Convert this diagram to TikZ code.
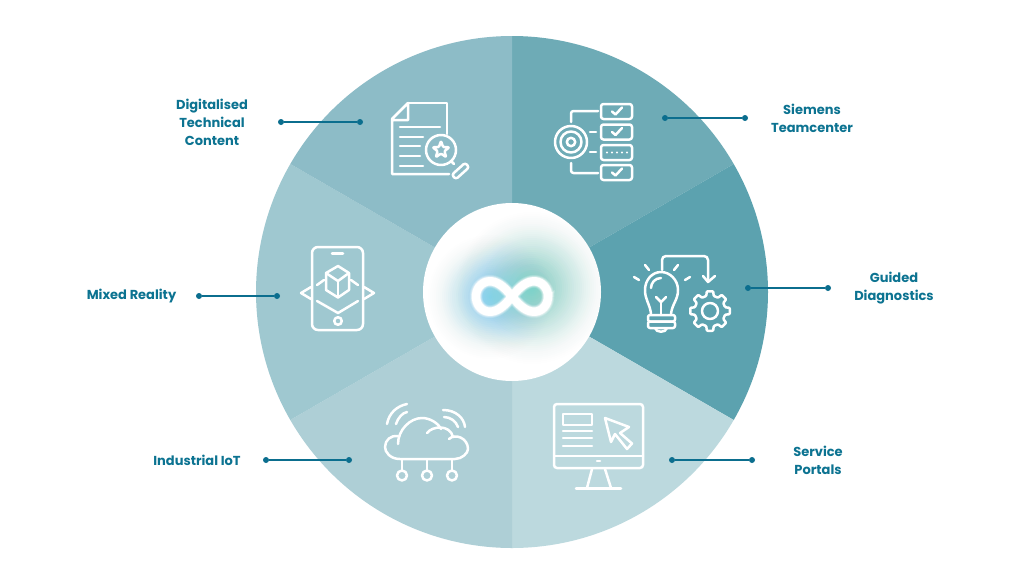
\documentclass[tikz,border=0pt]{standalone}
\usepackage{fontspec}
\usepackage{tikz}
\usetikzlibrary{calc}
\newfontfamily\labelfamily{Poppins}

\definecolor{secdocs}{HTML}{8DBCC7}
\definecolor{secteam}{HTML}{6EABB6}
\definecolor{secdiag}{HTML}{5CA2AF}
\definecolor{secportal}{HTML}{BCD9DE}
\definecolor{seciot}{HTML}{AECFD6}
\definecolor{secmixed}{HTML}{9FC8D0}
\definecolor{leadcol}{HTML}{0B6E8E}
\definecolor{lblcol}{HTML}{0C7391}
\definecolor{spotblue}{HTML}{7FD2EE}
\definecolor{spotteal}{HTML}{7CD6C8}

\tikzset{
    icon/.style={draw=white, line width=2.5pt, line join=round, line cap=round},
    leaddot/.style={circle, fill=leadcol, inner sep=0pt, minimum size=6pt},
    leadline/.style={draw=leadcol, line width=1.5pt},
    lbl/.style={text=lblcol, align=center, inner sep=0pt,
        font=\labelfamily\bfseries\fontsize{13}{18}\selectfont},
}

\begin{document}
\begin{tikzpicture}[x=1pt, y=-1pt]
            \useasboundingbox (0,0) rectangle (1024,576);
            \fill[white] (0,0) rectangle (1024,576);

            % the six sectors, clockwise from the top
            \foreach \a/\c in {-90/secteam,-30/secdiag,30/secportal,90/seciot,150/secmixed,210/secdocs}
                \fill[\c] (512,292) -- ++(\a:256)
                    arc[start angle=\a, delta angle=60, radius=256] -- cycle;

            % hub, the glow is built up from stacked discs
            \fill[white] (512,292) circle (89);
            \begin{scope}
                \clip (512,292) circle (89);
                \foreach \r [evaluate=\r as \o using {0.003+0.08*(1-\r/76)}] in {2,4,...,76}
                    \fill[spotteal, opacity=\o] (532,288) circle (\r);
                \foreach \r [evaluate=\r as \o using {0.003+0.09*(1-\r/62)}] in {2,4,...,62}
                    \fill[spotblue, opacity=\o] (490,297) circle (\r);
            \end{scope}
            \foreach \w/\o in {13/.15,11.5/.25,10/.4}
                \draw[white, line width=\w pt, opacity=\o, domain=0:360, samples=90, smooth, variable=\t]
                    plot ({512+36*cos(\t)/(1+sin(\t)*sin(\t))}, {296.5+43*sin(\t)*cos(\t)/(1+sin(\t)*sin(\t))}) -- cycle;
            \draw[white, line width=8.5pt, domain=0:360, samples=90, smooth, variable=\t]
                plot ({512+36*cos(\t)/(1+sin(\t)*sin(\t))}, {296.5+43*sin(\t)*cos(\t)/(1+sin(\t)*sin(\t))}) -- cycle;

            % document with magnifier
            \draw[icon] (408,103) -- (447,103) -- (447,134);
            \draw[icon] (449,174) -- (392,174) -- (392,119) -- (408,103) -- (408,120) -- (392,120);
            \draw[icon] (400,127) -- (440,127);
            \draw[icon] (400,137) -- (423,137);
            \draw[icon] (400,146) -- (420,146);
            \draw[icon] (400,156) -- (420,156);
            \draw[icon] (400,166) -- (423,166);
            \draw[icon] (441,150) circle (15);
            \draw[icon, rounded corners=1pt] (441,141)
                \foreach \k in {1,...,9} {
                    -- ({441+(mod(\k,2)==1 ? 3.6 : 8.8)*cos(-90+36*\k)}, {150+(mod(\k,2)==1 ? 3.6 : 8.8)*sin(-90+36*\k)})
                } -- cycle;
            \draw[icon] (451,161) -- (454,164);
            \draw[icon, rounded corners=2.5pt, rotate around={42:(460.5,171)}] (451.5,168) rectangle (469.5,174);

            % targets and checklist
            \draw[icon] (571,142) circle (16);
            \draw[icon] (571,142) circle (10.5);
            \draw[icon] (571,142) circle (4.2);
            \draw[icon, rounded corners=2.5pt] (598,111) -- (571,111) -- (571,122);
            \draw[icon, rounded corners=2.5pt] (571,163) -- (571,173) -- (598,173);
            \draw[icon] (590,132) -- (596,132);
            \draw[icon] (590,152) -- (596,152);
            \foreach \y in {104,124.5,145,165}
                \draw[icon, rounded corners=2.5pt] (601,\y) rectangle (632,\y+15);
            \foreach \y in {111.5,132,172.5}
                \draw[icon] (612,\y) -- (615.5,\y+3) -- (622,\y-4);
            \foreach \x in {607,612,617,622,627}
                \fill[white] (\x,152.5) circle (1.2);

            % bulb, arrow and gear
            \draw[icon] (651,314) .. controls (650,304) and (645,300) .. (645,290)
                .. controls (645,280) and (652,272) .. (661,272)
                .. controls (670,272) and (678,280) .. (678,290)
                .. controls (678,300) and (672,304) .. (671,314);
            \draw[icon] (651,288) .. controls (651,283) and (655,278) .. (661,278);
            \draw[icon] (656,297) -- (661,302) -- (666,297);
            \draw[icon] (661,302) -- (661,314);
            \draw[icon, rounded corners=2pt] (648,315) rectangle (675,321.5);
            \draw[icon, rounded corners=2pt] (648,321.5) rectangle (675,328);
            \draw[icon] (655,328) .. controls (656,333) and (666,333) .. (667,328);
            \draw[icon] (634,277) -- (639,280);
            \draw[icon] (645,265) -- (649,270);
            \draw[icon] (678,265) -- (674,270);
            \draw[icon] (690,277) -- (685,280);
            \draw[icon, rounded corners=4pt] (662,270) -- (662,256) -- (708,256) -- (708,281);
            \draw[icon] (703,276) -- (708,282) -- (715,276);
            \draw[icon, rounded corners=.8pt] (710,311) ++(-14:15.5)
                \foreach \a in {0,45,...,315} {
                    -- ($(710,311)+(\a-14:15.5)$) -- ($(710,311)+(\a-9:20)$) -- ($(710,311)+(\a+9:20)$) -- ($(710,311)+(\a+14:15.5)$)
                } -- cycle;
            \draw[icon] (710,311) circle (8);

            % phone with cube
            \draw[icon, rounded corners=6pt] (312,247) rectangle (363,330);
            \draw[icon] (332,253.5) -- (343,253.5);
            \draw[icon] (338,321) circle (3.8);
            \draw[icon] (338,266) -- (349,273) -- (349,290) -- (338,297.5) -- (326,290) -- (326,273) -- cycle;
            \draw[icon] (326,273) -- (338,281) -- (349,273);
            \draw[icon] (338,281) -- (338,297);
            \draw[icon] (317,285) -- (324,280);
            \draw[icon] (351,280) -- (358,285);
            \draw[icon] (317,301) -- (338,313) -- (358,301);
            \draw[icon] (311,287) -- (301,293) -- (311,299);
            \draw[icon] (364,287) -- (374,293) -- (364,299);

            % cloud with signals and nodes
            \draw[icon] (398,444) .. controls (398,430) and (410,418) .. (422,418)
                .. controls (430,418) and (438,423) .. (441,429);
            \draw[icon] (427,433) .. controls (432,426) and (450,424) .. (453,437);
            \draw[icon] (449,439) .. controls (455,433) and (468,438) .. (468,449)
                .. controls (468,453) and (462,459) .. (455,459)
                -- (400,459) .. controls (390,459) and (385,452) .. (385,447)
                .. controls (385,440) and (391,435) .. (398,436);
            \draw[icon] (387,424) .. controls (389,413) and (397,406) .. (407,404);
            \draw[icon] (396,424) .. controls (398,418) and (402,413) .. (407,412);
            \draw[icon] (443,410) .. controls (456,410) and (464,418) .. (465,427);
            \draw[icon] (444,417) .. controls (450,417) and (456,421) .. (458,427);
            \foreach \x in {402,427,452} {
                \draw[icon] (\x,460) -- (\x,470);
                \draw[icon] (\x,475.5) circle (5);
            }

            % monitor with cursor
            \draw[icon, rounded corners=3pt] (554,404) rectangle (643,468);
            \draw[icon] (554,456) -- (643,456);
            \draw[icon] (597,461) -- (600,461);
            \draw[icon] (592,469) -- (587,488);
            \draw[icon] (605,469) -- (611,488);
            \draw[icon] (576,488.5) -- (621,488.5);
            \draw[icon] (563,414) rectangle (592,425);
            \draw[icon] (563,431) -- (592,431);
            \draw[icon] (563,438) -- (592,438);
            \draw[icon] (563,446) -- (592,446);
            \draw[icon] (605,418) -- (629,427) -- (620,433) -- (632,443.5) -- (627,449) -- (615,434) -- (611,442) -- cycle;

            % leader lines
            \foreach \n/\x/\y in {docsa/360/122,docsb/281/122,teama/665/118,teamb/745/118,
                    diaga/748/288,diagb/828/288,mixeda/277/296,mixedb/199/296,
                    iota/349/460,iotb/266/460,portala/672/460,portalb/752/460}
                \node[leaddot] (\n) at (\x,\y) {};
            \foreach \p/\q in {docsa/docsb,teama/teamb,diaga/diagb,mixeda/mixedb,iota/iotb,portala/portalb}
                \draw[leadline] (\p) -- (\q);

            \node[lbl] (docs) at (212,122) {Digitalised\\Technical\\Content};
            \node[lbl] (team) at (812,118) {Siemens\\Teamcenter};
            \node[lbl] (diag) at (894,288) {Guided\\Diagnostics};
            \node[lbl] (mixed) at (131.5,296) {Mixed Reality};
            \node[lbl] (iot) at (197,460) {Industrial IoT};
            \node[lbl] (portal) at (818,460) {Service\\Portals};
\end{tikzpicture}
\end{document}
